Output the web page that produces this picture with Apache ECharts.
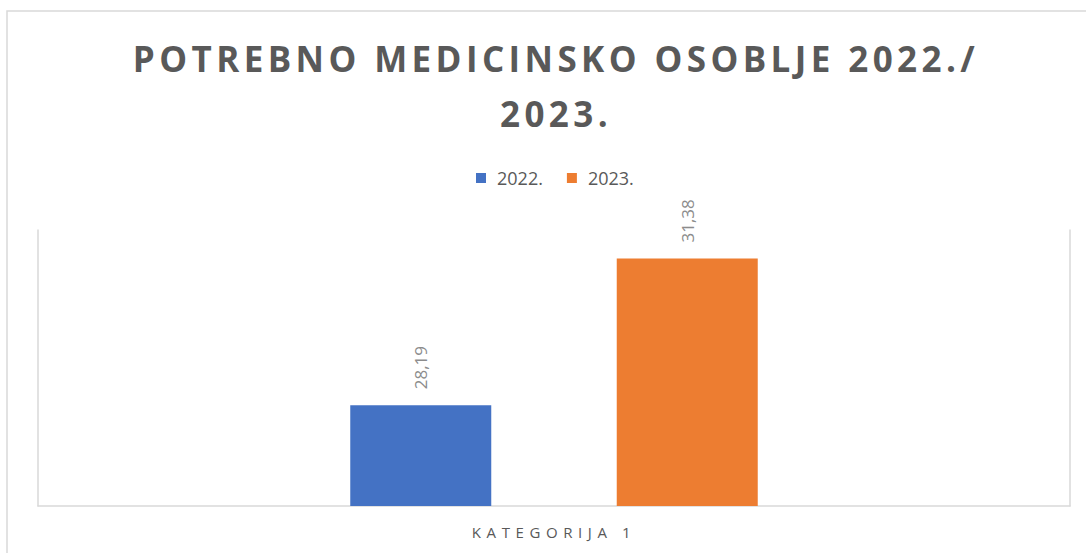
<!DOCTYPE html>
<html>
<head>
    <meta charset="utf-8">
    <title>Potrebno medicinsko osoblje</title>
    <script src="https://cdn.jsdelivr.net/npm/echarts@6/dist/echarts.min.js"></script>
    <style>
        html, body { margin: 0; padding: 0; background: #fff; }
        #chart { width: 1086px; height: 553px; }
    </style>
</head>
<body>
<div id="chart"></div>
<script>
    // podaci
    var categories = ['KATEGORIJA 1'];
    var seriesNames = ['2022.', '2023.'];
    var values2022 = [28.19];
    var values2023 = [31.38];
    var colors = ['#4472c4', '#ed7d31'];

    var myChart = echarts.init(document.getElementById('chart'), null, {renderer: 'svg'});

    var labelOpt = {
        show: true,
        position: 'top',
        distance: 16,
        rotate: 90,
        align: 'left',
        verticalAlign: 'middle',
        color: '#8c8c8c',
        fontSize: 17,
        fontFamily: 'Open Sans',
        formatter: function (p) {
            return p.value.toFixed(2).replace('.', ',');
        }
    };

    var option = {
        backgroundColor: '#fff',
        animation: false,
        title: {
            text: 'POTREBNO MEDICINSKO OSOBLJE 2022./\n2023.',
            left: 556,
            textAlign: 'center',
            top: 31,
            padding: 0,
            textStyle: {
                color: '#595959',
                fontSize: 35,
                fontWeight: 'bold',
                fontFamily: 'Open Sans',
                lineHeight: 55
            }
        },
        legend: {
            data: seriesNames,
            top: 169,
            left: 476,
            padding: 0,
            itemWidth: 10,
            itemHeight: 10,
            itemGap: 24,
            icon: 'rect',
            textStyle: {
                color: '#595959',
                fontSize: 18,
                fontFamily: 'Open Sans',
                padding: [0, 0, 0, 6]
            }
        },
        grid: {
            left: 38,
            right: 16,
            top: 230,
            bottom: 47
        },
        xAxis: {
            type: 'category',
            data: categories,
            axisLine: {lineStyle: {color: '#d9d9d9', width: 1.5}},
            axisTick: {show: false},
            axisLabel: {
                color: '#595959',
                fontSize: 15,
                fontFamily: 'Open Sans',
                margin: 18
            }
        },
        yAxis: [
            {
                type: 'value',
                min: 26,
                max: 32,
                position: 'left',
                axisLine: {show: true, lineStyle: {color: '#d9d9d9', width: 1.5}},
                axisTick: {show: false},
                axisLabel: {show: false},
                splitLine: {show: false}
            },
            {
                type: 'value',
                min: 26,
                max: 32,
                position: 'right',
                axisLine: {show: true, lineStyle: {color: '#d9d9d9', width: 1.5}},
                axisTick: {show: false},
                axisLabel: {show: false},
                splitLine: {show: false}
            }
        ],
        graphic: [
            {
                type: 'rect',
                silent: true,
                shape: {x: 7, y: 11, width: 1200, height: 700},
                style: {fill: 'none', stroke: '#d9d9d9', lineWidth: 1.5}
            }
        ],
        series: [
            {
                name: seriesNames[0],
                type: 'bar',
                data: values2022,
                barWidth: 141,
                barGap: '89%',
                itemStyle: {color: colors[0]},
                label: labelOpt
            },
            {
                name: seriesNames[1],
                type: 'bar',
                data: values2023,
                barWidth: 141,
                barGap: '89%',
                itemStyle: {color: colors[1]},
                label: labelOpt
            }
        ]
    };
    myChart.setOption(option);

    // razmak slova za naslov i oznaku kategorije (kao u originalu)
    function spaceLetters() {
        var texts = document.querySelectorAll('#chart svg text');
        texts.forEach(function (t) {
            var s = t.textContent;
            var st = (t.getAttribute('style') || '') + (t.getAttribute('font-weight') || '');
            if (s.indexOf('POTREBNO') === 0 || (s === '2023.' && st.indexOf('bold') >= 0)) {
                t.setAttribute('letter-spacing', '4.4px');
            } else if (s === 'KATEGORIJA 1') {
                t.setAttribute('letter-spacing', '5.6px');
            }
        });
    }
    spaceLetters();
    myChart.on('finished', spaceLetters);
</script>
</body>
</html>
